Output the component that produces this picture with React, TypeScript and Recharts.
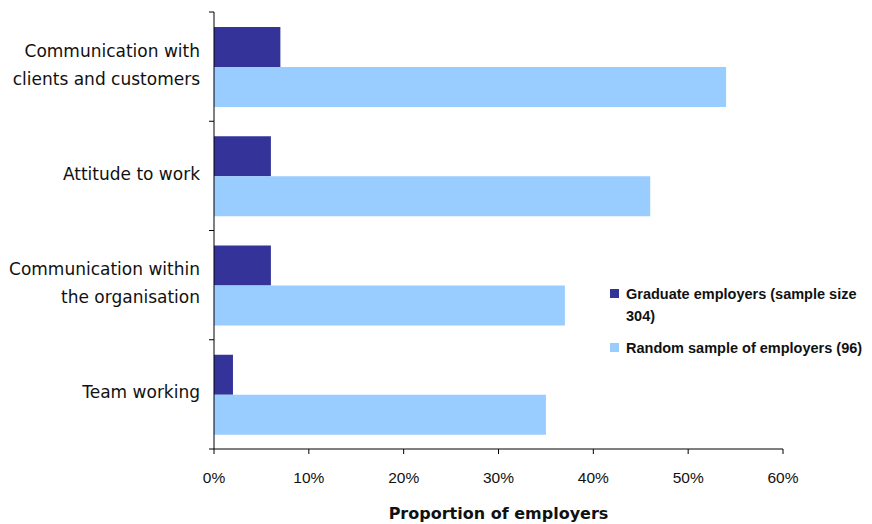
import React from "react";
import { BarChart, Bar, XAxis, YAxis, Legend } from "recharts";

const categories = [
  "Communication with\nclients and customers",
  "Attitude to work",
  "Communication within\nthe organisation",
  "Team working",
];
const graduateEmployers = [7, 6, 6, 2];
const randomSample = [54, 46, 37, 35];
const xTicks = [0, 10, 20, 30, 40, 50, 60];
const seriesNames = ["Graduate employers (sample size 304)", "Random sample of employers (96)"];
const seriesColors = ["#333399", "#99CCFF"];

const data = categories.map((name, i) => ({
  name,
  graduate: graduateEmployers[i],
  random: randomSample[i],
}));

const CategoryTick = (props: any) => {
  const { x, y, payload, index, visibleTicksCount } = props;
  const lines = String(payload.value).split("\n");
  const half = payload.offset || 0;
  const axisX = x + 14;
  return (
    <g>
      <line x1={axisX - 5} x2={axisX} y1={y - half} y2={y - half} stroke="#000" />
      {index === (visibleTicksCount ?? categories.length) - 1 && (
        <line x1={axisX - 5} x2={axisX} y1={y + half} y2={y + half} stroke="#000" />
      )}
      <text textAnchor="end" fontFamily="DejaVu Sans" fontSize={17} fill="#111">
        {lines.map((ln, i) => (
          <tspan key={i} x={x} y={y + 4 + (i - (lines.length - 1) / 2) * 28}>
            {ln}
          </tspan>
        ))}
      </text>
    </g>
  );
};

const LegendContent = () => (
  <div
    style={{
      fontFamily: "Liberation Sans",
      fontWeight: "bold",
      fontSize: 14.5,
      lineHeight: "22px",
      color: "#111",
      width: 256,
    }}
  >
    {seriesNames.map((n, i) => (
      <div key={n} style={{ display: "flex", alignItems: "flex-start", marginBottom: 10 }}>
        <div
          style={{
            width: 9,
            height: 9,
            background: seriesColors[i],
            marginTop: 6,
            marginRight: 7,
            flex: "none",
          }}
        />
        <div style={{ width: 240, flex: "none" }}>{n}</div>
      </div>
    ))}
  </div>
);

export default function App() {
  return (
    <BarChart
      width={864}
      height={516}
      data={data}
      layout="vertical"
      margin={{ top: 4, right: 89, left: 0, bottom: 0 }}
      barGap={0}
      barSize={40}
    >
      <XAxis
        type="number"
        domain={[0, 60]}
        ticks={xTicks}
        tickFormatter={(v: number) => `${v}%`}
        height={75}
        axisLine={{ stroke: "#000" }}
        tickLine={{ stroke: "#000" }}
        tickSize={5}
        tickMargin={18}
        tick={{ fontFamily: "Liberation Sans", fontSize: 15.5, fill: "#111" }}
        label={{
          value: "Proportion of employers",
          position: "insideBottom",
          offset: 5,
          style: { fontFamily: "DejaVu Sans", fontWeight: "bold", fontSize: 16, fill: "#111" },
        }}
      />
      <YAxis
        type="category"
        dataKey="name"
        width={206}
        axisLine={{ stroke: "#000" }}
        tickLine={false}
        tickSize={5}
        tickMargin={9}
        tick={<CategoryTick />}
        interval={0}
      />
      <Legend
        layout="horizontal"
        verticalAlign="middle"
        align="center"
        wrapperStyle={{ left: 602, top: 275, width: 256 }}
        content={<LegendContent />}
      />
      <Bar dataKey="graduate" name={seriesNames[0]} fill={seriesColors[0]} isAnimationActive={false} />
      <Bar dataKey="random" name={seriesNames[1]} fill={seriesColors[1]} isAnimationActive={false} />
    </BarChart>
  );
}
